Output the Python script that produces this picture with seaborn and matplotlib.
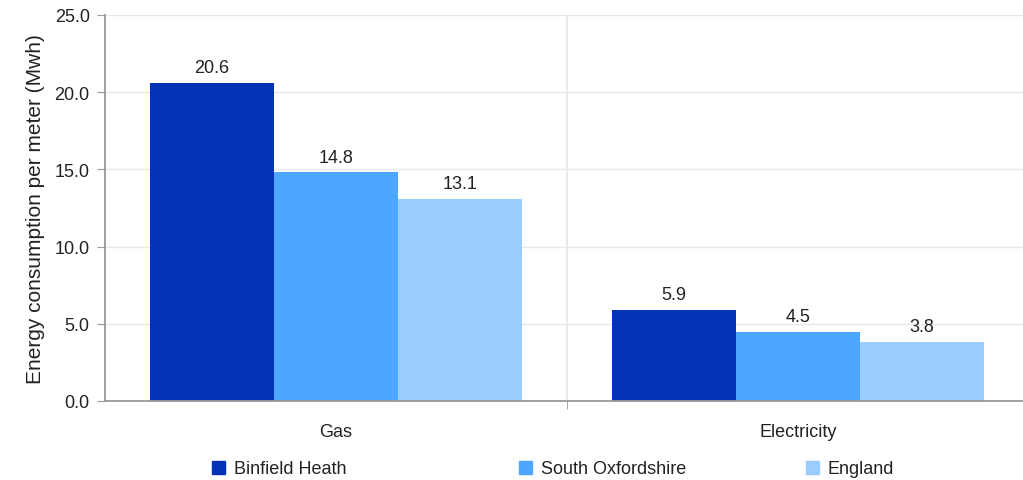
import matplotlib
matplotlib.use("Agg")
import matplotlib.pyplot as plt
import seaborn as sns
import pandas as pd
from matplotlib.ticker import MultipleLocator, FixedLocator, FormatStrFormatter

# data
fuels = ["Gas", "Electricity"]
areas = ["Binfield Heath", "South Oxfordshire", "England"]
binfield = [20.6, 5.9]
south_oxon = [14.8, 4.5]
england = [13.1, 3.8]
colours = ["#0432b4", "#4da6ff", "#99ccff"]

df = pd.DataFrame({
    "fuel": fuels * 3,
    "area": [a for a in areas for _ in fuels],
    "value": binfield + south_oxon + england,
})

sns.set_style("white")
plt.rcParams["font.family"] = ["Liberation Sans", "DejaVu Sans"]
fs = 13
txt = "#222222"

fig = plt.figure(figsize=(10.23, 4.81), dpi=100)
# plot area runs slightly past the right edge of the image, as in the reference
ax = fig.add_axes([105 / 1023, 1 - 402 / 481, 924 / 1023, 386 / 481])

sns.barplot(data=df, x="fuel", y="value", hue="area", palette=colours,
            width=0.805, saturation=1, linewidth=0, ax=ax, legend=False)

for c in ax.containers:
    ax.bar_label(c, fmt="%.1f", padding=5, fontsize=fs, color=txt)

ax.set_xlim(-0.5, 1.5)
ax.set_ylim(0, 25)
ax.yaxis.set_major_locator(MultipleLocator(5))
ax.yaxis.set_major_formatter(FormatStrFormatter("%.1f"))
ax.xaxis.set_minor_locator(FixedLocator([0.5]))
ax.grid(axis="y", color="#e8e8e8", linewidth=1)
ax.grid(axis="x", which="minor", color="#e8e8e8", linewidth=1.5)
ax.set_axisbelow(True)

for s in ["top", "right"]:
    ax.spines[s].set_visible(False)
for s in ["left", "bottom"]:
    ax.spines[s].set_color("#999999")
    ax.spines[s].set_linewidth(1.3)

ax.tick_params(axis="y", left=True, length=5.5, color="#999999", labelsize=fs,
               pad=5.5, labelcolor=txt)
ax.tick_params(axis="x", which="major", bottom=False, labelsize=fs, pad=12,
               labelcolor=txt)
ax.tick_params(axis="x", which="minor", bottom=True, length=5.5, color="#999999")
ax.set_xlabel("")
ax.set_ylabel("Energy consumption per meter (Mwh)", fontsize=15,
              color=txt, labelpad=7)

# one legend entry per area, placed where the reference has them
legend_x = [212, 519, 806]
for colour, name, lx in zip(colours, areas, legend_x):
    fig.legend([plt.Rectangle((0, 0), 1, 1, color=colour)], [name],
               loc="center left", bbox_to_anchor=(lx / 1023, 1 - 470 / 481),
               frameon=False, fontsize=fs, handlelength=0.7, handleheight=0.7,
               handletextpad=0.5, borderaxespad=0, borderpad=0, labelcolor=txt)

fig.savefig("out.png", dpi=100)
